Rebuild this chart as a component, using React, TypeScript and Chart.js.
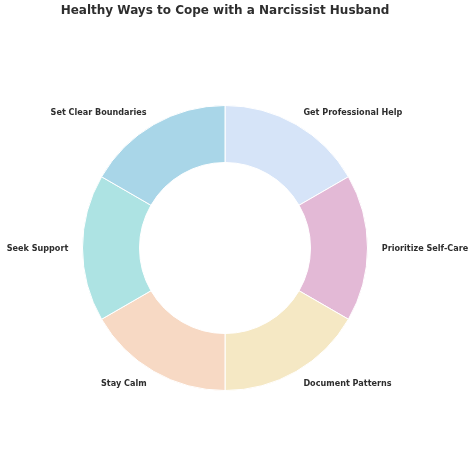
import React, { useEffect, useRef } from "react";
import { Chart, registerables } from "chart.js";

Chart.register(...registerables);

const TITLE = "Healthy Ways to Cope with a Narcissist Husband";
const categories = [
  "Get Professional Help",
  "Prioritize Self-Care",
  "Document Patterns",
  "Stay Calm",
  "Seek Support",
  "Set Clear Boundaries",
];
const values = [1, 1, 1, 1, 1, 1];
const colors = ["#d6e4f8", "#e3b9d6", "#f5e8c4", "#f7d9c4", "#ade3e3", "#a9d6e8"];

const FONT = '"DejaVu Sans", sans-serif';

const labelPlugin = {
  id: "outerLabels",
  afterDraw(chart: any) {
    const ctx = chart.ctx;
    const meta = chart.getDatasetMeta(0);
    ctx.save();
    ctx.fillStyle = "#2e2e2e";
    ctx.font = `bold 8.1px ${FONT}`;
    ctx.textBaseline = "middle";
    meta.data.forEach((arc: any, i: number) => {
      const p = arc.getProps(["x", "y", "startAngle", "endAngle", "outerRadius"], true);
      const mid = (p.startAngle + p.endAngle) / 2;
      const r = p.outerRadius * 1.1;
      const x = p.x + Math.cos(mid) * r;
      const y = p.y + Math.sin(mid) * r + 0.5;
      ctx.textAlign = Math.cos(mid) >= 0 ? "left" : "right";
      ctx.fillText(chart.data.labels[i], x, y);
    });
    const ca = chart.chartArea;
    ctx.font = `bold 12px ${FONT}`;
    ctx.textAlign = "center";
    ctx.textBaseline = "middle";
    ctx.fillStyle = "#2e2e2e";
    ctx.fillText(TITLE, (ca.left + ca.right) / 2, 10.5);
    ctx.restore();
  },
};

export default function App() {
  const ref = useRef<HTMLCanvasElement>(null);
  useEffect(() => {
    document.body.style.margin = "0";
    const chart = new Chart(ref.current!, {
      type: "doughnut",
      data: {
        labels: categories,
        datasets: [
          {
            data: values,
            backgroundColor: colors,
            borderColor: "#ffffff",
            borderWidth: 1,
          },
        ],
      },
      options: {
        animation: false,
        responsive: false,
        cutout: "60%",
        layout: { padding: { left: 82, right: 106, top: 105, bottom: 83 } },
        plugins: {
          legend: { display: false },
          title: { display: false },
          tooltip: { enabled: false },
        },
      },
      plugins: [labelPlugin],
    });
    return () => chart.destroy();
  }, []);
  return (
    <div style={{ width: 474, height: 474, background: "#fff" }}>
      <canvas ref={ref} width={474} height={474} style={{ width: 474, height: 474 }} />
    </div>
  );
}
